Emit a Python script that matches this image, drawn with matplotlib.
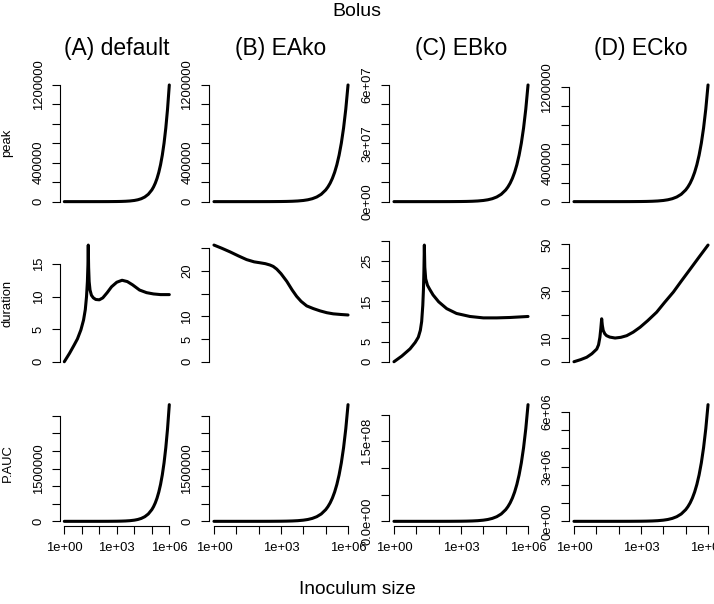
import numpy as np
import matplotlib
matplotlib.use('Agg')
import matplotlib.pyplot as plt

plt.rcParams['font.family'] = ['Liberation Sans', 'DejaVu Sans']

# inoculum size (log10) for the smooth peak / P.AUC rows
grid_log = [0, 0.5, 1, 1.5, 2, 2.5, 3, 3.25, 3.5, 3.75, 4, 4.2, 4.4, 4.6, 4.8,
            5, 5.1, 5.2, 5.3, 5.4, 5.5, 5.6, 5.7, 5.8, 5.9, 6]

# peak
peak_a = [1.2, 3.8, 12, 38, 120, 379, 1200, 2134, 3795, 6748, 12000, 19019, 30143,
          47773, 75715, 120000, 151072, 190187, 239431, 301427, 379474, 477728,
          601424, 757148, 953194, 1200000]
peak_b = [1.2, 3.8, 12, 38, 120, 379, 1200, 2134, 3795, 6748, 12000, 19019, 30143,
          47773, 75715, 120000, 151072, 190187, 239431, 301427, 379474, 477728,
          601424, 757148, 953194, 1200000]
peak_c = [60, 190, 600, 1897, 6000, 18974, 60000, 106680, 189737, 337405, 600000,
          950940, 1507140, 2388660, 3785760, 6000000, 7553580, 9509340, 11971560,
          15071340, 18973680, 23886420, 30071220, 37857420, 47659680, 60000000]
peak_d = [1.2, 3.9, 12, 39, 122, 387, 1224, 2177, 3871, 6883, 12240, 19399, 30746,
          48729, 77230, 122400, 154093, 193991, 244220, 307455, 387063, 487283,
          613453, 772291, 972257, 1224000]

# P.AUC
auc_a = [3.3, 10.5, 33, 105, 332, 1050, 3320, 5904, 10499, 18669, 33200, 52619,
         83395, 132173, 209479, 332000, 417965, 526183, 662426, 833947, 1049877,
         1321715, 1663941, 2094777, 2637169, 3320000]
auc_b = [3.3, 10.5, 33, 105, 332, 1050, 3320, 5904, 10499, 18669, 33200, 52619,
         83395, 132173, 209479, 332000, 417965, 526183, 662426, 833947, 1049877,
         1321715, 1663941, 2094777, 2637169, 3320000]
auc_c = [219, 693, 2190, 6925, 21900, 69253, 219000, 389448, 692539, 1231474,
         2190000, 3470931, 5501061, 8718609, 13818024, 21900000, 27570567,
         34709091, 43696194, 55010391, 69253932, 87185433, 109759953, 138179583,
         173957832, 219000000]
auc_d = [6.4, 20.2, 64, 202, 640, 2024, 6400, 11381, 20239, 35990, 64000, 101434,
         160762, 254790, 403814, 640000, 805715, 1014330, 1276966, 1607610,
         2023859, 2547885, 3207597, 4038125, 5083699, 6400000]

# duration
dur_a_log = [0, 0.3, 0.55, 0.75, 0.95, 1.1, 1.2, 1.27, 1.32, 1.35, 1.37, 1.39, 1.42,
             1.47, 1.55, 1.66, 1.8, 2.0, 2.2, 2.45, 2.7, 3.0, 3.3, 3.6, 3.9, 4.3,
             4.7, 5.1, 5.5, 6.0]
dur_a = [0, 1.3, 2.5, 3.5, 4.9, 6.4, 8.0, 10.0, 12.3, 14.8, 17.9, 14.5, 12.3, 11.0,
         10.2, 9.8, 9.55, 9.5, 9.8, 10.6, 11.5, 12.2, 12.5, 12.3, 11.8, 11.0, 10.6,
         10.4, 10.3, 10.3]
dur_b_log = [0, 0.35, 0.72, 1.1, 1.46, 1.8, 2.06, 2.3, 2.51, 2.65, 2.81, 3.0, 3.26,
             3.5, 3.7, 3.9, 4.15, 4.45, 4.75, 5.05, 5.34, 5.7, 6.0]
dur_b = [25.7, 25.0, 24.2, 23.3, 22.5, 22.0, 21.8, 21.6, 21.3, 21.0, 20.4, 19.4, 17.7,
         15.8, 14.4, 13.3, 12.3, 11.7, 11.2, 10.8, 10.55, 10.4, 10.3]
dur_c_log = [0, 0.35, 0.72, 0.95, 1.09, 1.18, 1.24, 1.29, 1.32, 1.34, 1.36, 1.38, 1.42,
             1.5, 1.6, 1.75, 2.0, 2.36, 2.8, 3.4, 4.0, 4.6, 5.2, 6.0]
dur_c = [0, 1.4, 3.2, 4.8, 6.1, 7.8, 10.0, 14.0, 18.0, 22.5, 29.0, 23.5, 20.6, 19.0,
         18.0, 16.6, 14.9, 13.2, 12.0, 11.25, 10.9, 10.9, 11.0, 11.25]
dur_d_log = [0, 0.3, 0.57, 0.8, 1.02, 1.1, 1.16, 1.2, 1.24, 1.27, 1.31, 1.38, 1.46, 1.6,
             1.84, 2.1, 2.36, 2.65, 2.96, 3.3, 3.7, 4.05, 4.45, 4.8, 5.19, 5.6, 6.0]
dur_d = [0, 0.9, 1.9, 3.4, 5.4, 7.2, 10.4, 14.0, 18.3, 15.5, 13.3, 11.9, 11.1, 10.5,
         10.1, 10.4, 11.1, 12.6, 14.7, 17.5, 21.1, 25.2, 29.7, 34.3, 39.3, 44.6, 49.7]

col_titles = ['(A) default', '(B) EAko', '(C) EBko', '(D) ECko']
row_labels = ['peak', 'duration', 'P.AUC']

x_ticks = [1, 10, 100, 1000, 1e4, 1e5, 1e6]
x_ticklabels = ['1e+00', '', '', '1e+03', '', '', '1e+06']

# y ticks and labels, R style (some labels dropped)
peak_ticks = [0, 2e5, 4e5, 6e5, 8e5, 1e6, 1.2e6]
peak_labels = ['0', '', '400000', '', '', '', '1200000']
peak_c_ticks = [0, 1e7, 2e7, 3e7, 4e7, 5e7, 6e7]
peak_c_labels = ['0e+00', '', '', '3e+07', '', '', '6e+07']
dur_a_ticks = [0, 5, 10, 15]
dur_a_labels = ['0', '5', '10', '15']
dur_b_ticks = [0, 5, 10, 15, 20, 25]
dur_b_labels = ['0', '5', '10', '', '20', '']
dur_c_ticks = [0, 5, 10, 15, 20, 25, 30]
dur_c_labels = ['0', '5', '', '15', '', '25', '']
dur_d_ticks = [0, 10, 20, 30, 40, 50]
dur_d_labels = ['0', '10', '', '30', '', '50']
auc_ticks = [0, 5e5, 1e6, 1.5e6, 2e6, 2.5e6, 3e6]
auc_labels = ['0', '', '', '1500000', '', '', '']
auc_c_ticks = [0, 5e7, 1e8, 1.5e8, 2e8]
auc_c_labels = ['0.0e+00', '', '', '1.5e+08', '']
auc_d_ticks = [0, 1e6, 2e6, 3e6, 4e6, 5e6, 6e6]
auc_d_labels = ['0e+00', '', '', '3e+06', '', '', '6e+06']

panels = [
    [(grid_log, peak_a, peak_ticks, peak_labels),
     (grid_log, peak_b, peak_ticks, peak_labels),
     (grid_log, peak_c, peak_c_ticks, peak_c_labels),
     (grid_log, peak_d, peak_ticks, peak_labels)],
    [(dur_a_log, dur_a, dur_a_ticks, dur_a_labels),
     (dur_b_log, dur_b, dur_b_ticks, dur_b_labels),
     (dur_c_log, dur_c, dur_c_ticks, dur_c_labels),
     (dur_d_log, dur_d, dur_d_ticks, dur_d_labels)],
    [(grid_log, auc_a, auc_ticks, auc_labels),
     (grid_log, auc_b, auc_ticks, auc_labels),
     (grid_log, auc_c, auc_c_ticks, auc_c_labels),
     (grid_log, auc_d, auc_d_ticks, auc_d_labels)],
]

W, H = 714, 604
fig = plt.figure(figsize=(W / 100, H / 100), dpi=100)

col_edges = [(60.1, 173.5), (208.6, 353.4), (388.6, 533.4), (568.6, 713.4)]
row_tops = [80.3, 240.4, 400.0]
row_h = 126.0

for r in range(3):
    for c in range(4):
        xl, yl, yt, ylab = panels[r][c]
        L, R = col_edges[c]
        top = row_tops[r]
        ax = fig.add_axes([L / W, 1 - (top + row_h) / H, (R - L) / W, row_h / H])
        x = 10 ** np.array(xl, dtype=float)
        y = np.array(yl, dtype=float)
        ax.plot(x, y, color='black', lw=2.2, solid_capstyle='round',
                solid_joinstyle='round', clip_on=False)
        ax.set_xscale('log')
        ax.set_xlim(10 ** -0.24, 10 ** 6.24)
        lo, hi = min(y.min(), 0), y.max()
        ax.set_ylim(lo - 0.04 * (hi - lo), hi + 0.04 * (hi - lo))

        for s in ['top', 'right']:
            ax.spines[s].set_visible(False)
        ax.spines['left'].set_bounds(yt[0], yt[-1])
        ax.spines['left'].set_linewidth(0.8)
        ax.set_yticks(yt)
        ax.set_yticklabels(ylab)
        ax.tick_params(axis='y', direction='out', length=5.5, width=0.8,
                       labelsize=9.4, pad=5.5, labelrotation=90)
        for t in ax.get_yticklabels():
            t.set_va('center')

        ax.xaxis.set_minor_locator(matplotlib.ticker.NullLocator())
        if r == 2:
            ax.spines['bottom'].set_bounds(1, 1e6)
            ax.spines['bottom'].set_linewidth(0.8)
            ax.set_xticks(x_ticks)
            ax.set_xticklabels(x_ticklabels)
            ax.tick_params(axis='x', direction='out', length=5.5, width=0.8,
                           labelsize=9.4, pad=6)
        else:
            ax.spines['bottom'].set_visible(False)
            ax.set_xticks([])

        if r == 0:
            fig.text((L + R) / 2 / W, 1 - 49 / H, col_titles[c], ha='center',
                     va='center', fontsize=16.5)
        if c == 0:
            fig.text(7.5 / W, 1 - (top + row_h / 2) / H, row_labels[r], rotation=90,
                     ha='center', va='center', fontsize=9.4)

fig.text(0.5, 1 - 12 / H, 'Bolus', ha='center', va='center', fontsize=14)
fig.text(0.5, 1 - 590 / H, 'Inoculum size', ha='center', va='center', fontsize=13.8)

fig.savefig('out.png', dpi=100)
